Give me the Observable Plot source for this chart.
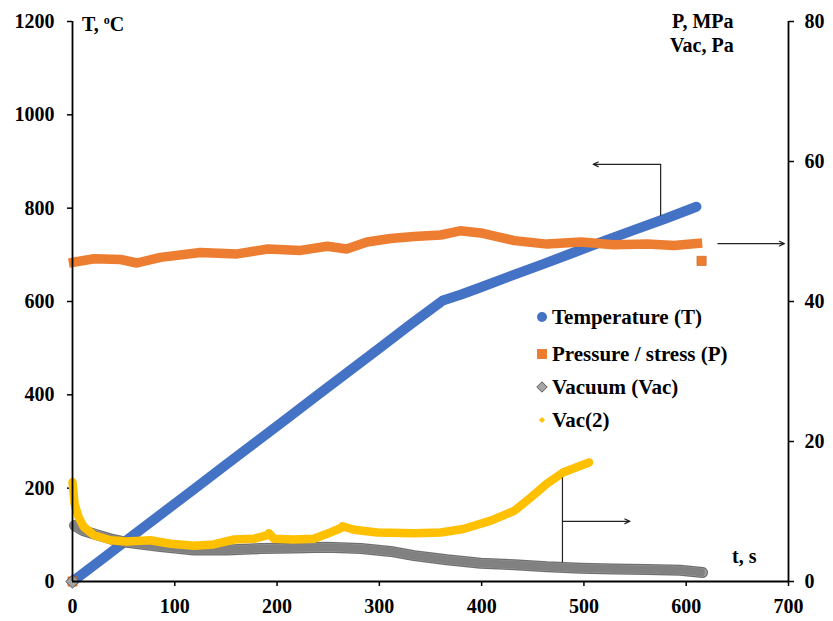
<!DOCTYPE html>
<html>
<head>
<meta charset="utf-8">
<script src="https://cdn.jsdelivr.net/npm/d3@7"></script>
<script src="https://cdn.jsdelivr.net/npm/@observablehq/plot@0.6"></script>
<style>
  body { margin: 0; background: #fff; }
  #wrap { position: relative; width: 833px; height: 621px; font-family: "Liberation Serif", "Times New Roman", serif; font-weight: bold; color: #000; }
  .lbl { position: absolute; font-family: "Liberation Serif", "Times New Roman", serif; font-size: 20px; line-height: 1; white-space: nowrap; }
  .lbl sup { font-size: 12px; vertical-align: 7px; line-height: 0; }
  .leg { position: absolute; font-family: "Liberation Serif", "Times New Roman", serif; font-size: 21px; }
  .leg div { position: absolute; height: 24px; display: flex; align-items: center; white-space: nowrap; }
  .sw { display: inline-block; margin-right: 4px; }
</style>
</head>
<body>
<div id="wrap"></div>
<script>
// ---- data ----
const xTicks = [0, 100, 200, 300, 400, 500, 600, 700];
const yTicksLeft = [0, 200, 400, 600, 800, 1000, 1200];
const yTicksRight = [0, 20, 40, 60, 80];

// Temperature (T, °C) vs time (s)
const tempTime = [0, 30, 60, 90, 120, 150, 180, 210, 240, 270, 300, 330, 362, 380, 400, 430, 460, 490, 520, 550, 580, 610];
const tempVal  = [0, 50, 100, 150, 200, 250, 300, 350, 400, 450, 500, 550, 602, 615, 631, 656, 680, 705, 730, 754, 778, 803];

// Pressure / stress (P, MPa)
const presTime = [1, 21, 47, 63, 86, 125, 161, 191, 223, 249, 268, 288, 311, 334, 360, 379, 399, 432, 464, 497, 529, 562, 588, 611];
const presVal  = [45.6, 46.1, 46.0, 45.5, 46.3, 47.0, 46.8, 47.5, 47.3, 47.9, 47.5, 48.5, 49.0, 49.3, 49.5, 50.1, 49.8, 48.7, 48.2, 48.5, 48.1, 48.2, 48.0, 48.3];
const presSingleTime = [0, 615];
const presSingleVal  = [0, 45.8];

// Vacuum (Vac, Pa)
const vacTime = [2, 10, 21, 37, 53, 86, 119, 151, 184, 216, 249, 282, 311, 334, 366, 399, 432, 464, 497, 529, 562, 594, 616];
const vacVal  = [8.0, 7.3, 6.8, 6.1, 5.6, 5.0, 4.5, 4.5, 4.7, 4.8, 4.9, 4.7, 4.3, 3.7, 3.1, 2.6, 2.4, 2.1, 1.9, 1.8, 1.7, 1.6, 1.3];
const vacSingleTime = [0];
const vacSingleVal  = [0];

// Vac(2)
const vac2Time = [0, 1, 2, 6, 11, 21, 37, 53, 76, 96, 119, 138, 158, 177, 190, 192, 197, 216, 236, 252, 262, 264, 275, 298, 334, 360, 382, 409, 432, 448, 464, 480, 505];
const vac2Val  = [14.2, 12.8, 11.1, 9.2, 7.8, 6.6, 5.9, 5.7, 5.9, 5.4, 5.1, 5.3, 6.0, 6.1, 6.6, 6.9, 6.1, 6.0, 6.1, 7.0, 7.6, 7.9, 7.4, 7.0, 6.9, 7.0, 7.5, 8.7, 10.1, 12.0, 14.0, 15.6, 17.0];

// Annotation arrows (time, T-axis units)
const annoLinks  = [{x1: 575, y1: 784, x2: 575, y2: 894}, {x1: 479, y1: 41, x2: 479, y2: 223}];
const annoArrows = [{x1: 575, y1: 894, x2: 509, y2: 894}, {x1: 631, y1: 724, x2: 696, y2: 724}, {x1: 479, y1: 129, x2: 545, y2: 129}];

// ---- build ----
const k = 1200 / 80; // right axis -> left axis units
const zip = (a, b) => a.map((x, i) => ({t: x, v: b[i]}));
const temp = zip(tempTime, tempVal);
const pres = zip(presTime, presVal);
const presS = zip(presSingleTime, presSingleVal);
const vac = zip(vacTime, vacVal);
const vacS = zip(vacSingleTime, vacSingleVal);
const vac2 = zip(vac2Time, vac2Val);

const BLUE = "#4472C4", ORANGE = "#ED7D31", GRAY = "#A5A5A5", YELLOW = "#FFC000";
const FONT = "'Liberation Serif', 'Times New Roman', serif";

const chart = Plot.plot({
  width: 833, height: 621,
  marginLeft: 72, marginRight: 45, marginTop: 21, marginBottom: 40,
  x: {domain: [0, 700]},
  y: {domain: [0, 1200]},
  style: {fontFamily: FONT, fontSize: "20px", fontWeight: "bold", color: "#000", background: "#fff"},
  marks: [
    Plot.axisX(xTicks, {tickSize: 5, tickPadding: 12, strokeWidth: 1.5, tickFormat: d => String(d), label: null}),
    Plot.axisY(yTicksLeft, {anchor: "left", tickSize: 5, tickPadding: 13, strokeWidth: 1.5, tickFormat: d => String(d), label: null}),
    Plot.axisY(yTicksRight.map(d => d * k), {anchor: "right", tickSize: 5, tickPadding: 11, strokeWidth: 1.5, tickFormat: d => String(d / k), label: null}),
    // temperature
    Plot.line(temp, {x: "t", y: "v", stroke: BLUE, strokeWidth: 10, strokeLinecap: "round", strokeLinejoin: "round"}),
    // pressure
    Plot.line(pres, {x: "t", y: d => d.v * k, stroke: ORANGE, strokeWidth: 9.5, strokeLinecap: "square", strokeLinejoin: "round"}),
    Plot.dot(presS, {x: "t", y: d => d.v * k, symbol: "square", r: 5.2, fill: ORANGE, stroke: "#c0601a", strokeWidth: 0.6}),
    // vacuum
    Plot.line(vac, {x: "t", y: d => d.v * k, stroke: "#6f6f6f", strokeWidth: 11, strokeLinecap: "round", strokeLinejoin: "round"}),
    Plot.line(vac, {x: "t", y: d => d.v * k, stroke: GRAY, strokeWidth: 8.5, strokeLinecap: "round", strokeLinejoin: "round"}),
    Plot.line(vac, {x: "t", y: d => d.v * k, stroke: "#7a7a7a", strokeWidth: 8, strokeDasharray: "1.2 2.3", strokeOpacity: 0.85}),
    Plot.dot(vacS, {x: "t", y: d => d.v * k, symbol: "diamond2", r: 6, fill: GRAY, stroke: "#595959", strokeWidth: 1}),
    // vac(2)
    Plot.line(vac2, {x: "t", y: d => d.v * k, stroke: YELLOW, strokeWidth: 8.5, strokeLinecap: "round", strokeLinejoin: "round"}),
    // axis lines
    Plot.ruleX([0], {stroke: "#000", strokeWidth: 1.8}),
    Plot.ruleX([700], {stroke: "#000", strokeWidth: 1.8}),
    Plot.ruleY([0], {stroke: "#000", strokeWidth: 1.8}),
    // annotations
    Plot.link(annoLinks, {x1: "x1", y1: "y1", x2: "x2", y2: "y2", stroke: "#222", strokeWidth: 1.2}),
    Plot.arrow(annoArrows, {x1: "x1", y1: "y1", x2: "x2", y2: "y2", stroke: "#222", strokeWidth: 1.2, headLength: 7, headAngle: 50})
  ]
});

const wrap = document.getElementById("wrap");
wrap.appendChild(chart);

function add(html, style, cls = "lbl") {
  const d = document.createElement("div");
  d.className = cls;
  d.innerHTML = html;
  Object.assign(d.style, style);
  wrap.appendChild(d);
  return d;
}
add("T, <sup>o</sup>C", {left: "82px", top: "14px"});
add("P, MPa", {left: "672px", top: "11px"});
add("Vac, Pa", {left: "670px", top: "35px"});
add("t, s", {left: "732px", top: "546px"});

// legend
const legendNames = ["Temperature (T)", "Pressure / stress (P)", "Vacuum (Vac)", "Vac(2)"];
const legendSw = [
  `<svg class="sw" width="12" height="12"><circle cx="6" cy="6" r="5" fill="${BLUE}"/></svg>`,
  `<svg class="sw" width="12" height="12"><rect x="1" y="1" width="10" height="10" fill="${ORANGE}"/></svg>`,
  `<svg class="sw" width="12" height="12"><path d="M6 0.8L11.2 6L6 11.2L0.8 6Z" fill="${GRAY}" stroke="#595959" stroke-width="1"/></svg>`,
  `<svg class="sw" width="12" height="12"><path d="M6 3L9 6L6 9L3 6Z" fill="${YELLOW}"/></svg>`
];
const legendTop = [305, 342, 375, 408];
const leg = add("", {left: "536px", top: "0px"}, "leg");
legendNames.forEach((n, i) => {
  const r = document.createElement("div");
  r.style.top = legendTop[i] + "px";
  r.innerHTML = legendSw[i] + "<span>" + n + "</span>";
  leg.appendChild(r);
});
</script>
</body>
</html>
